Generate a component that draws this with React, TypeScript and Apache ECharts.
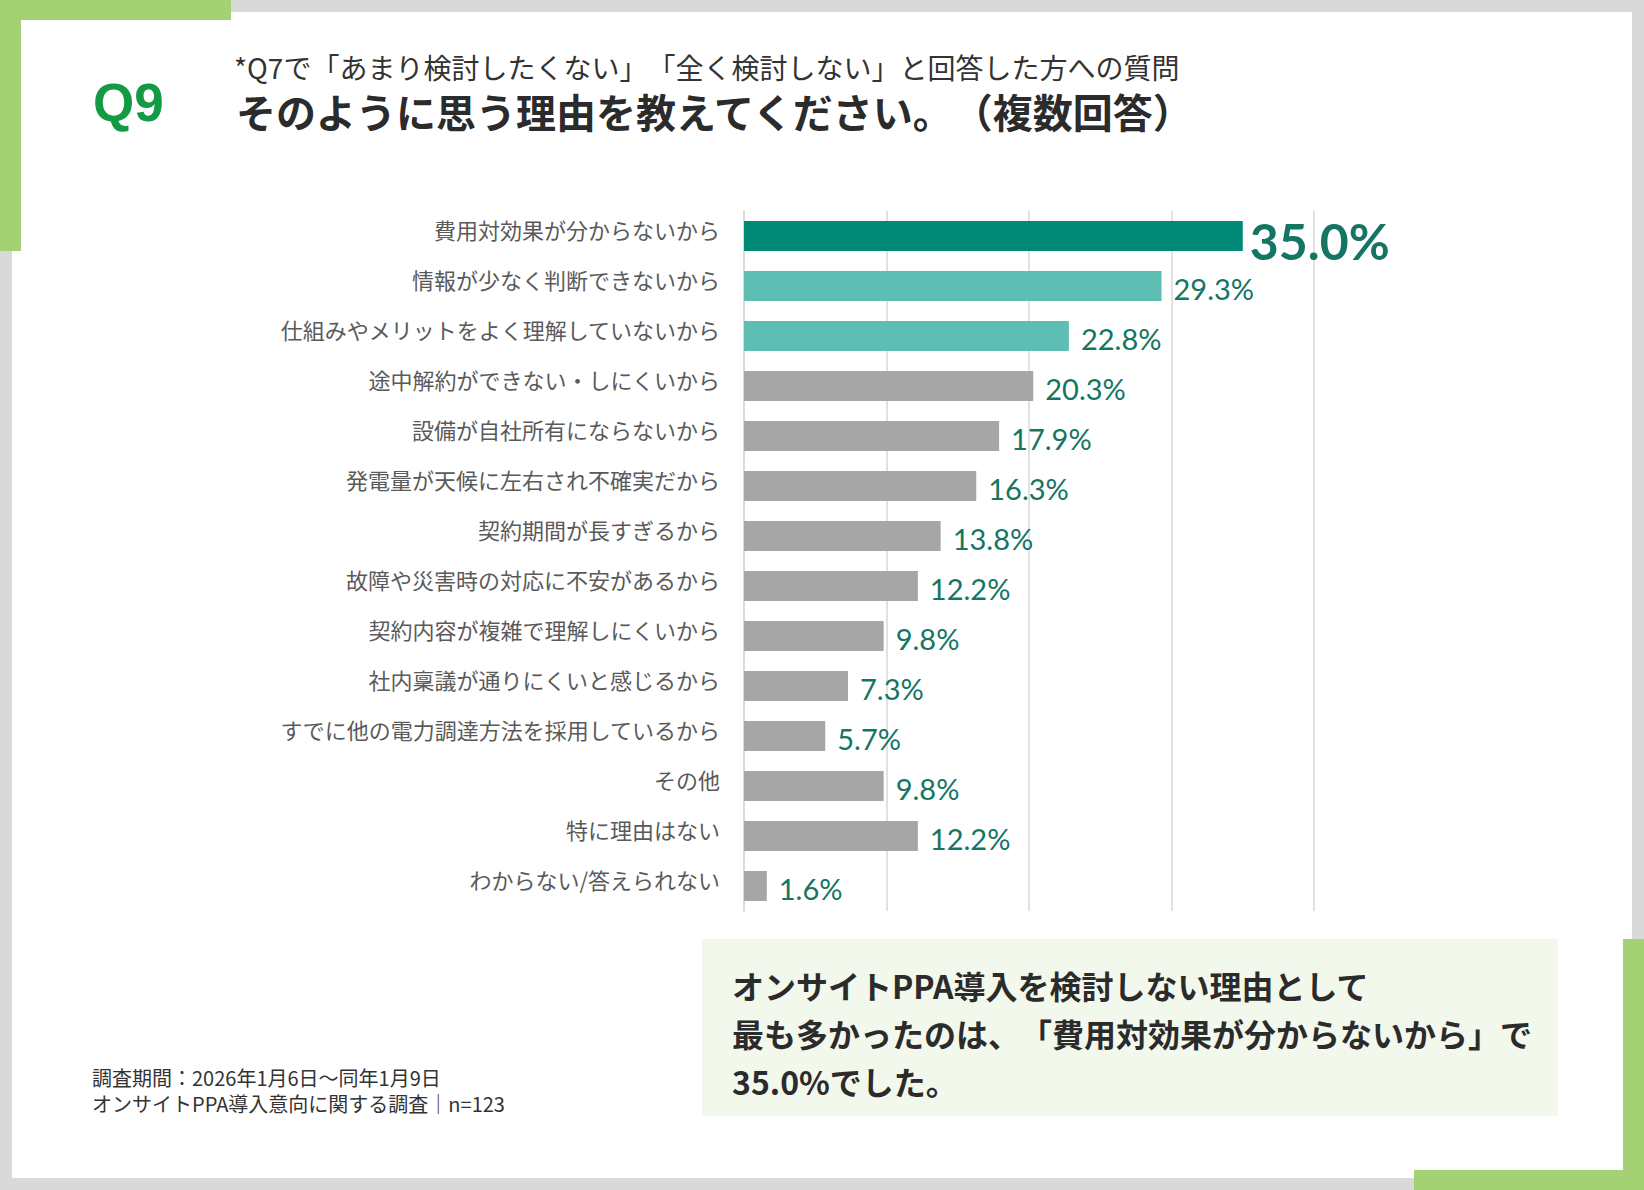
import { useEffect, useRef } from 'react';

import * as echarts from 'echarts';

// 回答項目（上から順に）
const categories = [
    '費用対効果が分からないから',
    '情報が少なく判断できないから',
    '仕組みやメリットをよく理解していないから',
    '途中解約ができない・しにくいから',
    '設備が自社所有にならないから',
    '発電量が天候に左右され不確実だから',
    '契約期間が長すぎるから',
    '故障や災害時の対応に不安があるから',
    '契約内容が複雑で理解しにくいから',
    '社内稟議が通りにくいと感じるから',
    'すでに他の電力調達方法を採用しているから',
    'その他',
    '特に理由はない',
    'わからない/答えられない',
];

// 回答率（%）
const values = [35.0, 29.3, 22.8, 20.3, 17.9, 16.3, 13.8, 12.2, 9.8, 7.3, 5.7, 9.8, 12.2, 1.6];

// 目盛り（%）
const axisTicks = [0, 10, 20, 30, 40];

const summaryLines = [
    'オンサイトPPA導入を検討しない理由として',
    '最も多かったのは、「費用対効果が分からないから」で',
    '35.0%でした。',
];

const footerLines = ['調査期間：2026年1月6日～同年1月9日', 'オンサイトPPA導入意向に関する調査｜n=123'];

const JP = '"Noto Sans CJK JP", "Noto Sans", sans-serif';
const NUM = 'Lato, "Open Sans", sans-serif';
const FRAME_GREEN = '#a3d174';
const LABEL_GREEN = '#147563';

const barColor = (i: number) => {
    if (i === 0) return '#008a76';
    if (i === 1 || i === 2) return '#5ebeb3';
    return '#a6a6a6';
};

const App = () => {
    const chartRef = useRef<HTMLDivElement | null>(null);

    useEffect(() => {
        const chartDom = chartRef.current!;
        // 約物の詰めをしない（「」や（）の間隔を元図に合わせる）
        chartDom.style.setProperty('text-spacing-trim', 'space-all');
        const myChart = echarts.init(chartDom, undefined, { renderer: 'svg' });

        const option: echarts.EChartsOption = {
            animation: false,
            backgroundColor: '#d9d9d9',
            graphic: [
                // 白いカードと緑の飾り
                { type: 'rect', z: -10, shape: { x: 12, y: 12, width: 1620, height: 1166 }, style: { fill: '#ffffff' } },
                { type: 'rect', z: -9, shape: { x: 0, y: 0, width: 231, height: 20 }, style: { fill: FRAME_GREEN } },
                { type: 'rect', z: -9, shape: { x: 0, y: 0, width: 21, height: 251 }, style: { fill: FRAME_GREEN } },
                { type: 'rect', z: -9, shape: { x: 1623, y: 939, width: 21, height: 251 }, style: { fill: FRAME_GREEN } },
                { type: 'rect', z: -9, shape: { x: 1414, y: 1170, width: 230, height: 20 }, style: { fill: FRAME_GREEN } },
                // まとめの背景
                { type: 'rect', z: -9, shape: { x: 702, y: 939, width: 856, height: 177 }, style: { fill: '#f3f8ec' } },
                {
                    type: 'text',
                    x: 93,
                    y: 102,
                    style: {
                        text: 'Q9',
                        fill: '#149a45',
                        font: 'bold 53px "Liberation Sans", Arial, sans-serif',
                        verticalAlign: 'middle',
                    },
                },
                {
                    type: 'text',
                    x: 234,
                    y: 67,
                    style: {
                        text: '*Q7で「あまり検討したくない」「全く検討しない」と回答した方への質問',
                        fill: '#333333',
                        font: `28px ${JP}`,
                        lineHeight: 28,
                        verticalAlign: 'middle',
                    },
                },
                {
                    type: 'text',
                    x: 236,
                    y: 111,
                    style: {
                        text: 'そのように思う理由を教えてください。（複数回答）',
                        fill: '#2b2b2b',
                        font: `bold 40px ${JP}`,
                        lineHeight: 40,
                        verticalAlign: 'middle',
                    },
                },
                ...summaryLines.map((t, i) => ({
                    type: 'text' as const,
                    x: 732,
                    y: 985 + i * 48,
                    style: {
                        text: t,
                        fill: '#2b2b2b',
                        font: `bold 32px ${JP}`,
                        verticalAlign: 'middle' as const,
                    },
                })),
                ...footerLines.map((t, i) => ({
                    type: 'text' as const,
                    x: 92,
                    y: 1077 + i * 26,
                    style: {
                        text: t,
                        fill: '#333333',
                        font: `20px ${JP}`,
                        lineHeight: 22,
                        verticalAlign: 'middle' as const,
                    },
                })),
            ],
            grid: {
                left: 744,
                top: 211,
                width: 570,
                height: 700,
            },
            xAxis: {
                type: 'value',
                min: axisTicks[0],
                max: axisTicks[axisTicks.length - 1],
                interval: axisTicks[1] - axisTicks[0],
                axisLabel: { show: false },
                axisLine: { show: false },
                axisTick: { show: false },
                splitLine: { lineStyle: { color: '#d9d9d9', width: 1.5 } },
            },
            yAxis: {
                type: 'category',
                inverse: true,
                data: categories,
                axisTick: { show: false },
                axisLine: { lineStyle: { color: '#d9d9d9', width: 1.5 } },
                axisLabel: {
                    margin: 24,
                    fontSize: 22,
                    color: '#5a5a5a',
                    fontFamily: JP,
                    // 項目名はバーの中心より少し上に置かれている
                    verticalAlign: 'bottom',
                    lineHeight: 14,
                },
            },
            series: [
                {
                    type: 'bar',
                    barWidth: 30,
                    data: values.map((v, i) => ({
                        value: v,
                        itemStyle: { color: barColor(i) },
                        label:
                            i === 0
                                ? { fontSize: 50, fontWeight: 'bold', distance: 7, offset: [0, 5] }
                                : undefined,
                    })),
                    label: {
                        show: true,
                        position: 'right',
                        distance: 12,
                        offset: [0, 2],
                        color: LABEL_GREEN,
                        fontSize: 29,
                        fontFamily: NUM,
                        formatter: (p: any) => `${Number(p.value).toFixed(1)}%`,
                    },
                },
            ],
        };

        myChart.setOption(option);

        return () => {
            myChart.dispose();
        };
    }, []);

    return <div ref={chartRef} style={{ position: 'absolute', left: 0, top: 0, width: 1644, height: 1190 }} />;
};

export default App;
